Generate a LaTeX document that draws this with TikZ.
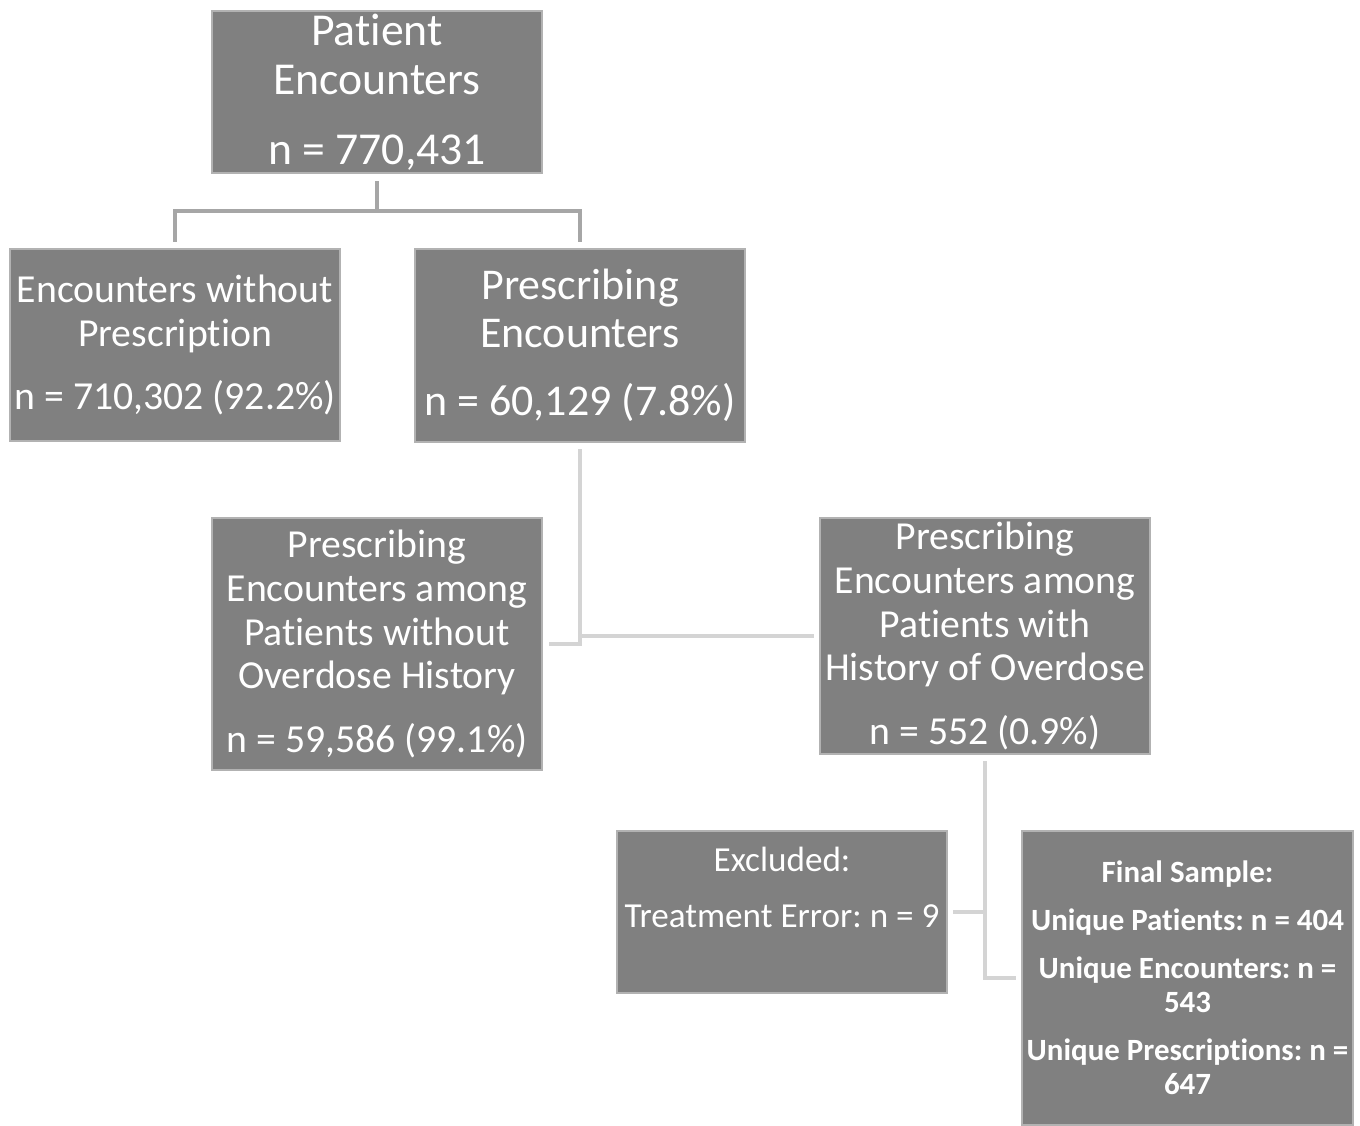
\documentclass[tikz,border=0pt]{standalone}
\usepackage{fontspec}
\setmainfont{Carlito}[RawFeature={-liga;-clig;-calt;-dlig}]
\frenchspacing
\usetikzlibrary{positioning,calc}
\tikzset{
  box/.style={fill=black!50,draw=black!30,line width=.6pt,text=white,
              align=center,inner sep=0pt,minimum width=3.3cm},
  fbig/.style={font=\fontsize{13}{14}\selectfont},
  fmid/.style={font=\fontsize{12.5}{13.7}\selectfont},
  fnrm/.style={font=\fontsize{11.3}{12.5}\selectfont},
  fsml/.style={font=\fontsize{10}{11.4}\selectfont},
  fbld/.style={font=\fontsize{8.8}{9.7}\selectfont\bfseries},
  lnk/.style ={draw=black!35,line width=1.2pt},
  lnk2/.style={draw=black!17,line width=1.2pt},
}
\begin{document}
\begin{tikzpicture}
  \useasboundingbox (0,0) rectangle (13.6,-11.25);
  \node[box,fbig,minimum height=1.62cm] (top) at (3.77,-.92)
       {Patient\\Encounters\\[2mm]n = 770,431};
  \node[box,fnrm,minimum height=1.92cm] (nopr) at (1.75,-3.45)
       {Encounters without\\Prescription\\[2mm]n = 710,302 (92.2\%)};
  \node[box,fmid,minimum height=1.93cm] (pr) at (5.80,-3.455)
       {Prescribing\\Encounters\\[2mm]n = 60,129 (7.8\%)};
  \node[box,fnrm,minimum height=2.52cm] (nood) at (3.77,-6.44)
       {Prescribing\\Encounters among\\Patients without\\Overdose History\\[2mm]n = 59,586 (99.1\%)};
  \node[box,fnrm,minimum height=2.36cm] (od) at (9.85,-6.36)
       {Prescribing\\Encounters among\\Patients with\\History of Overdose\\[2mm]n = 552 (0.9\%)};
  \node[box,fsml,minimum height=1.62cm] (exc) at (7.82,-9.12)
       {Excluded:\\[1.6mm]Treatment Error: n = 9\\[1mm]\mbox{}};
  \node[box,fbld,minimum width=3.31cm,minimum height=2.94cm] (fin) at (11.875,-9.78)
       {Final Sample:\\[1.4mm]Unique Patients: n = 404\\[1.4mm]Unique Encounters: n =\\543\\[1.4mm]Unique Prescriptions: n =\\647};
  % connectors
  \coordinate (j1) at ($(top.south)+(0,-.37)$);
  \draw[lnk] ([yshift=-.07cm]top.south) -- (j1);
  \draw[lnk] ([yshift=.06cm]nopr.north) |- (j1) -| ([yshift=.06cm]pr.north);
  \coordinate (j2) at (pr.south |- nood.east);
  \draw[lnk2] ([yshift=-.06cm]pr.south) -- (j2) -- ([xshift=.06cm]nood.east);
  \draw[lnk2] (j2 |- od.west) -- ([xshift=-.05cm]od.west);
  \coordinate (j3) at (od.south |- fin.west);
  \draw[lnk2] ([yshift=-.06cm]od.south) -- (j3) -- ([xshift=-.05cm]fin.west);
  \draw[lnk2] (j3 |- exc.east) -- ([xshift=.05cm]exc.east);
\end{tikzpicture}
\end{document}
